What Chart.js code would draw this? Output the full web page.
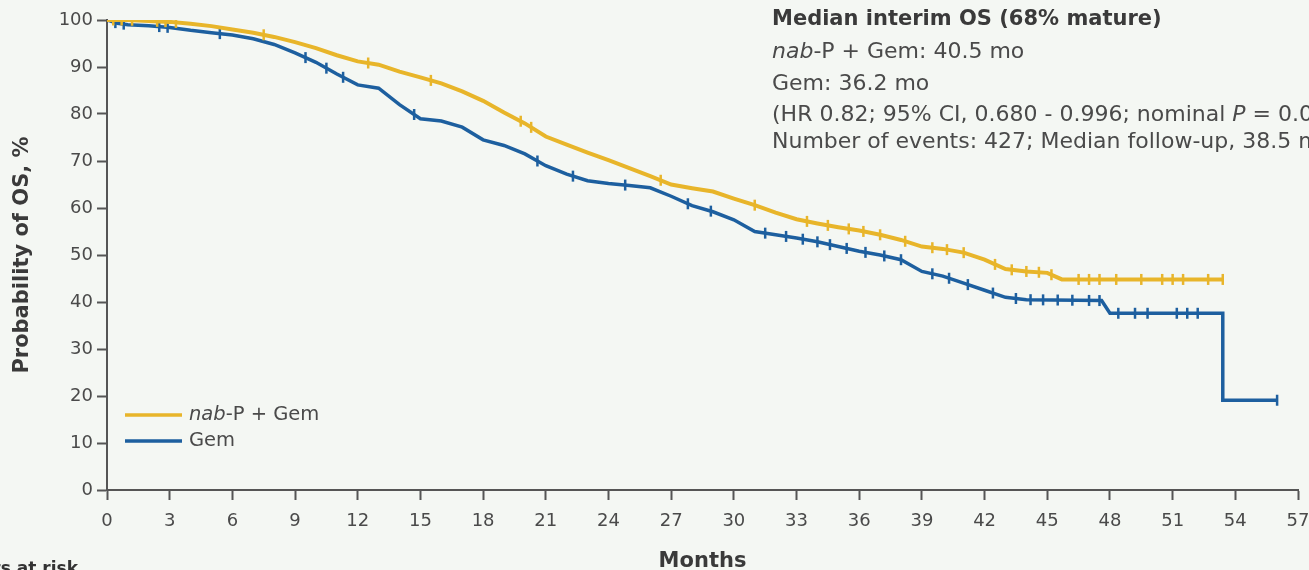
<!DOCTYPE html>
<html>
<head>
<meta charset="utf-8">
<script src="https://cdn.jsdelivr.net/npm/chart.js@4.4.1/dist/chart.umd.min.js"></script>
<style>
  html, body { margin: 0; padding: 0; background: #F4F7F3; }
  #wrap { width: 1309px; height: 570px; position: relative; }
</style>
</head>
<body>
<div id="wrap"><canvas id="c"></canvas></div>
<script>
// ---- Data ----
const seriesNames = ["nab-P + Gem", "Gem"];

const nabTimes = [0, 1, 2, 3, 4, 5, 6, 7, 8, 9, 10, 11, 12, 13, 14, 15, 16, 17, 18, 19, 20, 21, 22, 23, 24, 25, 26, 27, 28, 29, 30, 31, 32, 33, 34, 35, 36, 37, 38, 39, 40, 41, 42, 43, 44, 45, 45.7, 53.4];
const nabSurv  = [100, 100, 99.8, 99.6, 99.2, 98.7, 98.0, 97.3, 96.4, 95.3, 94.0, 92.5, 91.2, 90.5, 89.0, 87.8, 86.5, 84.8, 82.8, 80.3, 78.0, 75.2, 73.5, 71.8, 70.2, 68.5, 66.8, 65.0, 64.2, 63.5, 62.0, 60.6, 59.0, 57.6, 56.7, 55.9, 55.2, 54.3, 53.2, 51.8, 51.3, 50.5, 49.0, 47.0, 46.5, 46.2, 44.8, 44.8];

const gemTimes = [0, 0.5, 1, 2, 3, 4, 5, 6, 7, 8, 9, 10, 11, 12, 13, 14, 15, 16, 17, 18, 19, 20, 21, 22, 23, 24, 25, 26, 27, 28, 29, 30, 31, 32, 33, 34, 35, 36, 37, 38, 39, 40, 41, 42, 43, 44, 47.6, 48, 53.4, 53.4, 56];
const gemSurv  = [100, 99.3, 99.0, 98.8, 98.4, 97.8, 97.3, 96.8, 96.0, 94.8, 93.0, 91.0, 88.5, 86.2, 85.5, 82.0, 79.0, 78.5, 77.2, 74.5, 73.3, 71.5, 69.0, 67.2, 65.8, 65.2, 64.8, 64.3, 62.5, 60.5, 59.2, 57.5, 55.0, 54.3, 53.6, 52.8, 51.8, 50.8, 50.0, 49.0, 46.5, 45.5, 44.0, 42.5, 41.0, 40.5, 40.3, 37.6, 37.6, 19.1, 19.1];

const nabCensor = [0.3, 0.7, 1.2, 2.4, 2.8, 3.3, 7.5, 12.5, 15.5, 19.8, 20.3, 26.5, 31, 33.5, 34.5, 35.5, 36.2, 37, 38.2, 39.5, 40.2, 41, 42.5, 43.3, 44, 44.6, 45.2, 46.5, 47, 47.5, 48.3, 49.5, 50.5, 51, 51.5, 52.7, 53.4];
const gemCensor = [0.4, 0.8, 2.5, 2.9, 5.4, 9.5, 10.5, 11.3, 14.7, 20.6, 22.3, 24.8, 27.8, 28.9, 31.5, 32.5, 33.3, 34, 34.6, 35.4, 36.3, 37.2, 38, 39.5, 40.3, 41.2, 42.4, 43.5, 44.2, 44.8, 45.5, 46.2, 47, 47.5, 48.4, 49.2, 49.8, 51.2, 51.7, 52.2, 56];

const xTickValues = [0, 3, 6, 9, 12, 15, 18, 21, 24, 27, 30, 33, 36, 39, 42, 45, 48, 51, 54, 57];
const yTickValues = [0, 10, 20, 30, 40, 50, 60, 70, 80, 90, 100];

const annotationTitle = "Median interim OS (68% mature)";
const annotationLines = [
  [["nab", true], ["-P + Gem: 40.5 mo", false]],
  [["Gem: 36.2 mo", false]],
  [["(HR 0.82; 95% CI, 0.680 - 0.996; nominal ", false], ["P", true], [" = 0.0449)", false]],
  [["Number of events: 427; Median follow-up, 38.5 mo", false]]
];

// ---- Styling ----
const GOLD = "#E8B52A";
const BLUE = "#1D5F9F";
const AXIS = "#555555";
const TXT = "#4a4a4a";
const FONT = "'DejaVu Sans', sans-serif";

// value of a curve at time t (first occurrence of t, interpolated between read points)
function curveValue(times, surv, t) {
  for (let i = 1; i < times.length; i++) {
    if (t <= times[i]) {
      const t0 = times[i - 1], t1 = times[i];
      if (t1 === t0) return surv[i - 1];
      return surv[i - 1] + (surv[i] - surv[i - 1]) * (t - t0) / (t1 - t0);
    }
  }
  return surv[surv.length - 1];
}
const toXY = (ts, vs) => ts.map((t, i) => ({ x: t, y: vs[i] }));
const censorXY = (cs, ts, vs) => cs.map(t => ({ x: t, y: curveValue(ts, vs, t) }));

const bgPlugin = {
  id: 'bg',
  beforeDraw(chart) {
    const ctx = chart.ctx;
    ctx.save();
    ctx.fillStyle = '#F4F7F3';
    ctx.fillRect(0, 0, chart.width, chart.height);
    ctx.restore();
  }
};

function drawRich(ctx, parts, x, y, size, weight) {
  let cx = x;
  parts.forEach(([txt, ital]) => {
    ctx.font = (ital ? 'italic ' : '') + (weight || 'normal') + ' ' + size + 'px ' + FONT;
    ctx.fillText(txt, cx, y);
    cx += ctx.measureText(txt).width;
  });
}

const textPlugin = {
  id: 'texts',
  afterDraw(chart) {
    const ctx = chart.ctx;
    ctx.save();
    ctx.textBaseline = 'middle';
    ctx.textAlign = 'left';
    // annotation block
    const ax = 772;
    ctx.fillStyle = '#3a3a3a';
    ctx.font = 'bold 21px ' + FONT;
    ctx.fillText(annotationTitle, ax, 20);
    ctx.fillStyle = TXT;
    const lineYs = [52, 84, 115, 142];
    annotationLines.forEach((parts, i) => drawRich(ctx, parts, ax, lineYs[i], 22, 'normal'));
    // legend
    const legendItems = [
      { color: GOLD, parts: [["nab", true], ["-P + Gem", false]], y: 415 },
      { color: BLUE, parts: [[seriesNames[1], false]], y: 441 }
    ];
    legendItems.forEach(it => {
      ctx.strokeStyle = it.color;
      ctx.lineWidth = 3.5;
      ctx.beginPath();
      ctx.moveTo(125, it.y);
      ctx.lineTo(182, it.y);
      ctx.stroke();
      ctx.fillStyle = TXT;
      drawRich(ctx, it.parts, 189, it.y, 19.5, 'normal');
    });
    // partially visible risk-table header
    ctx.fillStyle = '#333';
    ctx.font = 'bold 17px ' + FONT;
    ctx.textAlign = 'right';
    ctx.textBaseline = 'top';
    ctx.fillText('Patients at risk', 78, 561);
    ctx.restore();
  }
};

const ctx = document.getElementById('c').getContext('2d');
new Chart(ctx, {
  type: 'line',
  data: {
    datasets: [
      { label: seriesNames[0] + ' censored', data: censorXY(nabCensor, nabTimes, nabSurv), showLine: false,
        pointStyle: 'line', rotation: 90, pointRadius: 5.5, borderColor: GOLD, borderWidth: 2.5, pointHoverRadius: 5 },
      { label: seriesNames[0], data: toXY(nabTimes, nabSurv), borderColor: GOLD,
        borderWidth: 4, pointRadius: 0, fill: false, tension: 0 },
      { label: seriesNames[1] + ' censored', data: censorXY(gemCensor, gemTimes, gemSurv), showLine: false,
        pointStyle: 'line', rotation: 90, pointRadius: 5.5, borderColor: BLUE, borderWidth: 2.5, pointHoverRadius: 5 },
      { label: seriesNames[1], data: toXY(gemTimes, gemSurv), borderColor: BLUE,
        borderWidth: 3.5, pointRadius: 0, fill: false, tension: 0 }
    ]
  },
  options: {
    responsive: true,
    maintainAspectRatio: false,
    animation: false,
    events: [],
    layout: { padding: { left: 8, right: 11, top: 20, bottom: 0 } },
    plugins: { legend: { display: false }, tooltip: { enabled: false } },
    scales: {
      x: {
        type: 'linear', min: 0, max: 57,
        afterBuildTicks: s => { s.ticks = xTickValues.map(v => ({ value: v })); },
        afterFit: s => { s.height = 80; s.paddingLeft = 0; s.paddingRight = 0; },
        ticks: { font: { family: FONT, size: 18 }, color: TXT, padding: 11, autoSkip: false, maxRotation: 0 },
        grid: { drawOnChartArea: false, drawTicks: true, tickLength: 10, tickColor: AXIS, tickWidth: 2 },
        border: { display: true, color: AXIS, width: 2 },
        title: { display: true, text: 'Months', font: { family: FONT, size: 21, weight: 'bold' }, color: '#3a3a3a', padding: { top: 2, bottom: -4 } }
      },
      y: {
        min: 0, max: 100,
        afterBuildTicks: s => { s.ticks = yTickValues.map(v => ({ value: v })); },
        afterFit: s => { s.width = 99; s.paddingTop = 0; s.paddingBottom = 0; },
        ticks: { font: { family: FONT, size: 18 }, color: TXT, padding: 4, autoSkip: false },
        grid: { drawOnChartArea: false, drawTicks: true, tickLength: 10, tickColor: AXIS, tickWidth: 2 },
        border: { display: true, color: AXIS, width: 2 },
        title: { display: true, text: 'Probability of OS, %', font: { family: FONT, size: 21, weight: 'bold' }, color: '#3a3a3a', padding: { top: 2, bottom: 4 } }
      }
    }
  },
  plugins: [bgPlugin, textPlugin]
});
</script>
</body>
</html>
